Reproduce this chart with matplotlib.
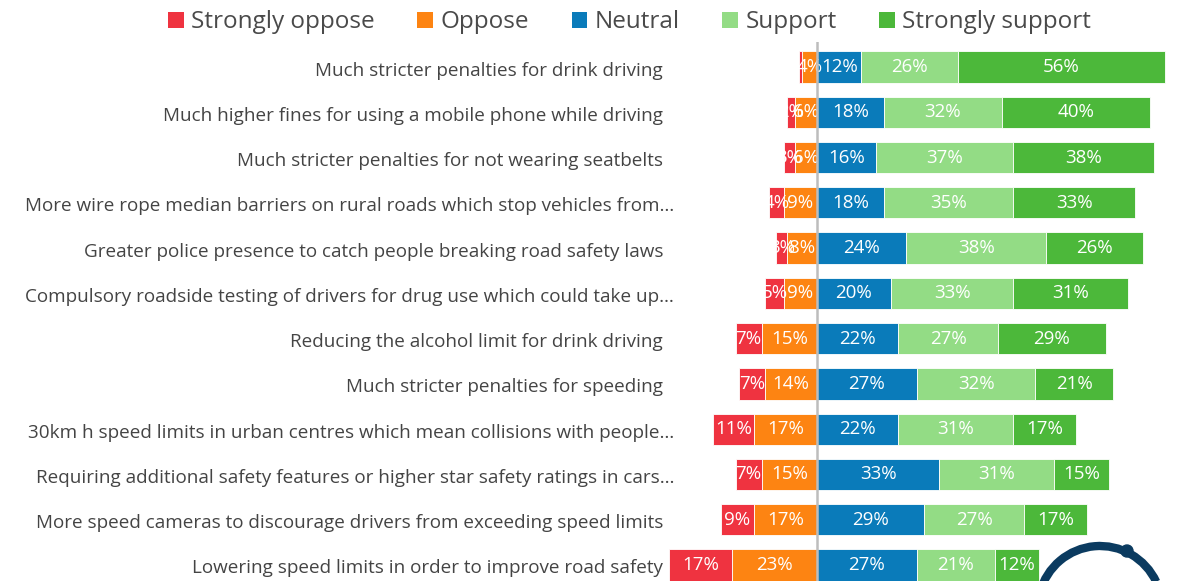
import numpy as np
import matplotlib.pyplot as plt
from matplotlib.patches import Patch, Arc, Circle

# data
measures = [
    "Much stricter penalties for drink driving",
    "Much higher fines for using a mobile phone while driving",
    "Much stricter penalties for not wearing seatbelts",
    "More wire rope median barriers on rural roads which stop vehicles from…",
    "Greater police presence to catch people breaking road safety laws",
    "Compulsory roadside testing of drivers for drug use which could take up…",
    "Reducing the alcohol limit for drink driving",
    "Much stricter penalties for speeding",
    "30km h speed limits in urban centres which mean collisions with people…",
    "Requiring additional safety features or higher star safety ratings in cars…",
    "More speed cameras to discourage drivers from exceeding speed limits",
    "Lowering speed limits in order to improve road safety",
]
strongly_oppose = [1, 2, 3, 4, 3, 5, 7, 7, 11, 7, 9, 17]
oppose = [4, 6, 6, 9, 8, 9, 15, 14, 17, 15, 17, 23]
neutral = [12, 18, 16, 18, 24, 20, 22, 27, 22, 33, 29, 27]
support = [26, 32, 37, 35, 38, 33, 27, 32, 31, 31, 27, 21]
strongly_support = [56, 40, 38, 33, 26, 31, 29, 21, 17, 15, 17, 12]

series_names = ["Strongly oppose", "Oppose", "Neutral", "Support", "Strongly support"]
colors = ["#EF3340", "#FD8412", "#0A7BBA", "#93DC85", "#4CB83A"]

W, H = 1177, 581
fig = plt.figure(figsize=(W / 100, H / 100), dpi=100)
plt.rcParams['font.family'] = ['Open Sans', 'DejaVu Sans']

# axes placed in pixel terms: zero at x=817, 3.7 px per percent
x0, ppp = 817, 3.7
left_px, right_px = 668, 1172
top_px = 42
ax = fig.add_axes([left_px / W, 0, (right_px - left_px) / W, (H - top_px) / H])
ax.set_xlim((left_px - x0) / ppp, (right_px - x0) / ppp)
row0, step = 67, 45.27
ax.set_ylim((H - row0) / step, (top_px - row0) / step)

y = np.arange(len(measures))
bh = 0.69
so = np.array(strongly_oppose)
op = np.array(oppose)
ne = np.array(neutral)
su = np.array(support)
ss = np.array(strongly_support)

segs = [
    (-(so + op), so, colors[0]),
    (-op, op, colors[1]),
    (np.zeros_like(ne), ne, colors[2]),
    (ne, su, colors[3]),
    (ne + su, ss, colors[4]),
]
for left, width, c in segs:
    ax.barh(y, width, left=left, height=bh, color=c, edgecolor="white", linewidth=0.6)
    for yi, l, w in zip(y, left, width):
        if w >= 2:
            ax.text(l + w / 2, yi, f"{w}%", ha="center", va="center",
                    color="white", fontsize=13.5)

ax.axvline(0, color="#BDBDBD", linewidth=1.8, zorder=5)

for yi, name in zip(y, measures):
    xr = 674 if name.endswith("…") else 663
    fig.text(xr / W, 1 - (row0 + 3.5 + step * yi) / H, name, ha="right", va="center",
             fontsize=13.6, color="#444444")

ax.axis("off")

handles = [Patch(facecolor=c, edgecolor="none") for c in colors]
fig.legend(handles, series_names, loc="upper center", bbox_to_anchor=(0.535, 1.02),
           ncol=5, frameon=False, fontsize=17.5, handlelength=0.65, handleheight=0.65,
           handletextpad=0.3, columnspacing=1.75, labelcolor="#4A4A4A")

# partial logo bottom right
lax = fig.add_axes([0, 0, 1, 1], facecolor="none")
lax.set_xlim(0, W)
lax.set_ylim(H, 0)
lax.axis("off")
lax.add_patch(Arc((1100, 608), 124, 124, theta1=195, theta2=335, color="#0B3B60", lw=6))
lax.add_patch(Circle((1127, 551), 6, color="#0B3B60"))

fig.savefig("out.png", dpi=100)
